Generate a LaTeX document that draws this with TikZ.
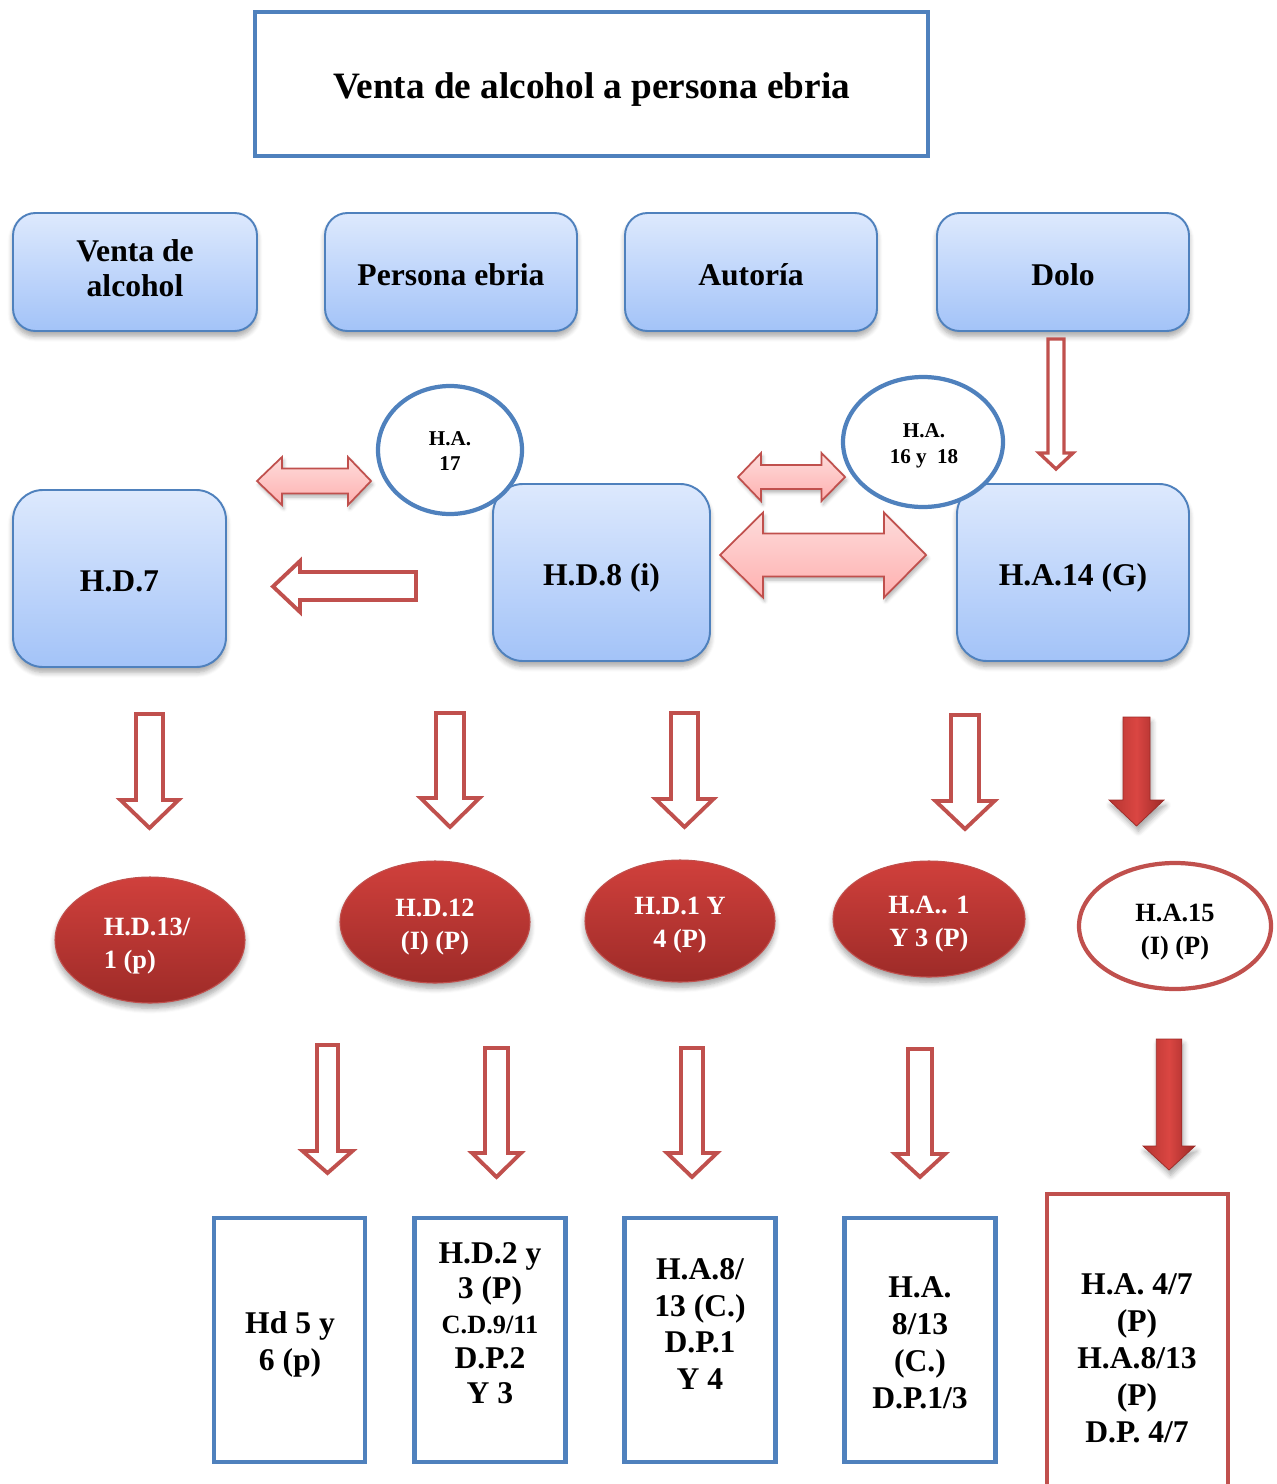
\documentclass[tikz,border=0pt]{standalone}
\usepackage{fontspec}
\setmainfont{Liberation Serif}
\usetikzlibrary{shadows,shadows.blur,shapes.geometric}
\definecolor{bblue}{HTML}{4F81BD}
\definecolor{btop}{HTML}{DDE9FD}
\definecolor{bbot}{HTML}{A3C3F8}
\definecolor{rline}{HTML}{C0504D}
\definecolor{rtop}{HTML}{D0403C}
\definecolor{rbot}{HTML}{9E2B28}
\definecolor{ptop}{HTML}{FDDCDB}
\definecolor{pbot}{HTML}{FFB0B0}
\definecolor{rA}{HTML}{B53531}
\definecolor{rB}{HTML}{DA4642}
\definecolor{rC}{HTML}{9C2A27}
% down arrow: #1 style, #2 x, #3 ytop, #4 y head base, #5 ytip, #6 shaft half width, #7 head half width
\newcommand\dnarrow[7]{%
  \draw[#1] ({#2-#6},#3) -- ({#2+#6},#3) -- ({#2+#6},#4) -- ({#2+#7},#4) -- (#2,#5) -- ({#2-#7},#4) -- ({#2-#6},#4) -- cycle;}
% double arrow: #1 xl, #2 x left head base, #3 x right head base, #4 xr, #5 yc, #6 shaft half, #7 head half
\newcommand\dblarrow[7]{%
  \draw[pinkarr] (#1,#5) -- (#2,{#5-#7}) -- (#2,{#5-#6}) -- (#3,{#5-#6}) -- (#3,{#5-#7}) -- (#4,#5) -- (#3,{#5+#7}) -- (#3,{#5+#6}) -- (#2,{#5+#6}) -- (#2,{#5+#7}) -- cycle;}
\begin{document}
\begin{tikzpicture}[x=0.02cm,y=-0.02cm,
  every node/.style={inner sep=0pt,outer sep=0pt},
  softshadow/.style={blur shadow={shadow xshift=0pt,shadow yshift=-3pt,shadow blur steps=6,shadow blur radius=3pt,shadow opacity=35}},
  titlebox/.style={draw=bblue,line width=2.3pt,minimum width=673*0.02cm,minimum height=144*0.02cm},
  gradbox/.style={draw=bblue,line width=1.1pt,top color=btop,bottom color=bbot,softshadow},
  topbox/.style={gradbox,rounded corners=0.45cm,minimum width=#1*0.02cm,minimum height=118*0.02cm},
  hbox/.style={gradbox,rounded corners=0.6cm,minimum width=#1*0.02cm,minimum height=177*0.02cm},
  txt/.style={align=center,font=\bfseries\fontsize{18}{20}\selectfont},
  circ/.style={ellipse,draw=bblue,line width=2.4pt,fill=white},
  ctxt/.style={align=center,font=\bfseries\fontsize{12}{14.7}\selectfont},
  redell/.style={ellipse,draw=rline,line width=0.6pt,top color=rtop,bottom color=rbot,softshadow},
  etxt/.style={align=center,text=white,font=\bfseries\fontsize{15}{18.5}\selectfont},
  whiteell/.style={ellipse,draw=rline,line width=2.4pt,fill=white},
  botbox/.style={draw=bblue,line width=2.5pt,minimum width=151*0.02cm,minimum height=244*0.02cm},
  bt/.style={align=center,font=\bfseries\fontsize{18}{21}\selectfont},
  hollowarr/.style={draw=rline,line width=2.2pt,fill=white,line join=miter},
  thinhollow/.style={draw=rline,line width=1.9pt,fill=white,line join=miter},
  solidarr/.style={draw=rC,line width=0.4pt,left color=rA,right color=rC,middle color=rB,
     blur shadow={shadow xshift=1pt,shadow yshift=-3pt,shadow blur steps=5,shadow blur radius=3pt,shadow opacity=35}},
  pinkarr/.style={draw=rline,line width=1pt,top color=ptop,bottom color=pbot,
     blur shadow={shadow xshift=1pt,shadow yshift=-2pt,shadow blur steps=5,shadow blur radius=2pt,shadow opacity=30}}
]
\useasboundingbox (0,0) rectangle (1276,1484);
\clip (0,0) rectangle (1276,1484);

% title
\node[titlebox] (title) at (591.5,84) {};
\node[txt,font=\bfseries\fontsize{21.2}{25}\selectfont] (title-t) at (591.5,90) {Venta de alcohol a persona ebria};

% top row
\node[topbox=244] (venta) at (135,272) {};
\node[topbox=252] (persona) at (451,272) {};
\node[topbox=252] (autoria) at (751,272) {};
\node[topbox=252] (dolo) at (1063,272) {};
\node[txt] (venta-t) at (135,268) {Venta de\\alcohol};
\node[txt] (persona-t) at (451,275) {Persona ebria};
\node[txt] (autoria-t) at (751,275) {Autoría};
\node[txt] (dolo-t) at (1063,275) {Dolo};

% Dolo arrow
\dnarrow{thinhollow}{1056}{339}{453}{469}{8}{17}

% double arrows
\dblarrow{257}{282}{348}{371}{481}{12.5}{24}
\dblarrow{738}{761}{821.5}{845}{477}{12}{24}
\dblarrow{720}{763}{884}{926}{555}{21.5}{42.5}

% left hollow arrow
\draw[hollowarr] (416,572) -- (300,572) -- (300,561) -- (273,586.5) -- (300,612) -- (300,600) -- (416,600) -- cycle;

% middle boxes
\node[hbox=213] (hd7) at (119.5,578.5) {};
\node[hbox=217] (hd8) at (601.5,572.5) {};
\node[hbox=232] (ha14) at (1073,572.5) {};
\node[txt] (hd7-t) at (119.5,581.5) {H.D.7};
\node[txt] (hd8-t) at (601.5,577.5) {H.D.8 (i)};
\node[txt] (ha14-t) at (1073,577.5) {H.A.14 (G)};

% circles
\node[circ,minimum width=144*0.02cm,minimum height=128*0.02cm] (c17) at (450,450) {};
\node[circ,minimum width=160*0.02cm,minimum height=130*0.02cm] (c1618) at (923,442) {};
\node[ctxt] (c17-t) at (450,451) {H.A.\\17};
\node[ctxt] (c1618-t) at (924,446) {H.A.\\16 y\ \ 18};

% first row of down arrows
\dnarrow{hollowarr}{149.5}{714}{800}{828}{13.5}{29}
\dnarrow{hollowarr}{450}{713}{798}{827}{14}{29.5}
\dnarrow{hollowarr}{684.5}{713}{799}{827}{13.5}{29}
\dnarrow{hollowarr}{965}{715}{801}{829}{14}{29.5}
\dnarrow{solidarr}{1136.5}{717}{800}{826}{13.5}{27.5}

% ellipses
\node[redell,minimum width=190*0.02cm,minimum height=126*0.02cm] (e1) at (150,940) {};
\node[redell,minimum width=190*0.02cm,minimum height=122*0.02cm] (e2) at (435,922) {};
\node[redell,minimum width=190*0.02cm,minimum height=122*0.02cm] (e3) at (680,921) {};
\node[redell,minimum width=192*0.02cm,minimum height=116*0.02cm] (e4) at (929,919) {};
\node[whiteell,minimum width=192*0.02cm,minimum height=126*0.02cm] (e5) at (1175,926) {};
\node[etxt,align=left] (e1-t) at (147,946) {H.D.13/\\1 (p)};
\node[etxt] (e2-t) at (435,927) {H.D.12\\(I) (P)};
\node[etxt] (e3-t) at (680,925) {H.D.1 Y\\4 (P)};
\node[etxt] (e4-t) at (929,924) {H.A.. 1\\Y 3 (P)};
\node[etxt,text=black] (e5-t) at (1175,932) {H.A.15\\(I) (P)};

% second row of down arrows
\dnarrow{hollowarr}{327.5}{1045}{1151}{1173}{10.5}{25}
\dnarrow{hollowarr}{496.5}{1048}{1153}{1177}{11.5}{24.5}
\dnarrow{hollowarr}{692}{1048}{1153}{1177}{11}{25}
\dnarrow{hollowarr}{920}{1049}{1154}{1177}{12}{25}
\dnarrow{solidarr}{1169}{1039}{1146}{1170}{12.75}{26}

% bottom boxes
\node[botbox] (b1) at (289.5,1340) {};
\node[botbox] (b2) at (490,1340) {};
\node[botbox] (b3) at (700,1340) {};
\node[botbox] (b4) at (920,1340) {};
\node[botbox,draw=rline,minimum width=181*0.02cm,minimum height=306*0.02cm] (b5) at (1137.5,1347) {};

\node[bt] (b1-t) at (290,1344) {Hd 5 y\\6 (p)};
\node[bt,font=\bfseries\fontsize{18}{20}\selectfont] (b2-t) at (490,1323) {H.D.2 y\\3 (P)\\{\fontsize{15}{20}\selectfont C.D.9/11}\\D.P.2\\Y 3};
\node[bt] (b3-t) at (700,1324) {H.A.8/\\13 (C.)\\D.P.1\\Y 4};
\node[bt] (b4-t) at (920,1343) {H.A.\\8/13\\(C.)\\D.P.1/3};
\node[bt] (b5-t) at (1137,1358) {H.A. 4/7\\(P)\\H.A.8/13\\(P)\\D.P. 4/7};
\end{tikzpicture}
\end{document}
